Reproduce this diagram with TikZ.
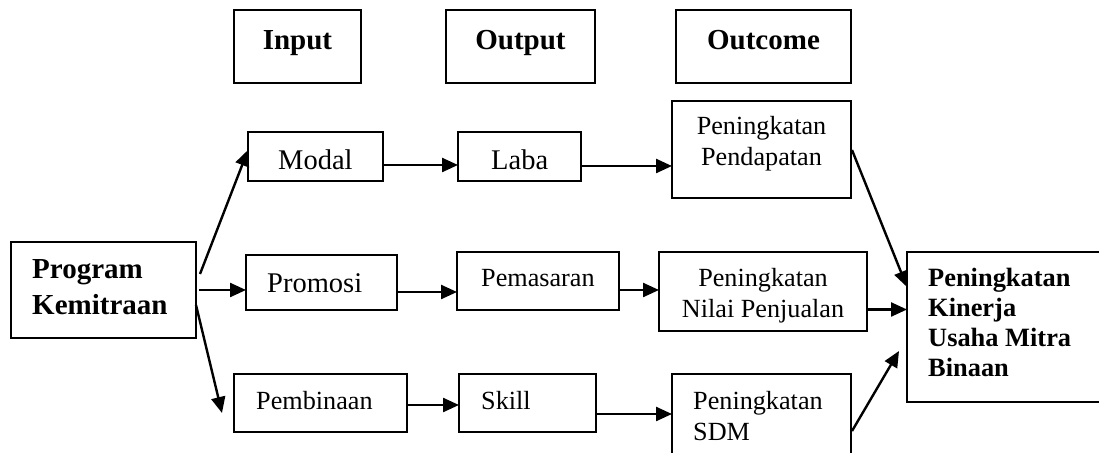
\documentclass[tikz,border=0pt]{standalone}
\usepackage{fontspec}
\setmainfont{Liberation Serif}
\usetikzlibrary{arrows.meta,calc}
\begin{document}
\begin{tikzpicture}[x=1pt,y=1pt,
  box/.style={draw=black,line width=1.8pt,inner sep=0pt,outer sep=0pt,anchor=north west},
  arr/.style={line width=2.4pt,-{Triangle[length=16pt,width=14pt]}},
  hdr/.style={font=\fontsize{29}{34}\selectfont\bfseries,inner sep=0pt,anchor=base},
  bigb/.style={font=\fontsize{29}{36}\selectfont\bfseries,inner sep=0pt,anchor=base west,align=left},
  finb/.style={font=\fontsize{26.4}{30}\selectfont\bfseries,inner sep=0pt,anchor=base west,align=left},
  big/.style={font=\fontsize{28.5}{32}\selectfont,inner sep=0pt,anchor=base west},
  sml/.style={font=\fontsize{26.2}{31}\selectfont,inner sep=0pt,anchor=base west,align=left},
  smlc/.style={font=\fontsize{26.2}{31}\selectfont,inner sep=0pt,anchor=base,align=center}]
\useasboundingbox (0,0) rectangle (1099,452);
\clip (0,0) rectangle (1099,452);
% header boxes
\node[box,minimum width=127pt,minimum height=73pt] (inp) at (234,442) {};
\node[box,minimum width=149pt,minimum height=73pt] (outp) at (446,442) {};
\node[box,minimum width=175pt,minimum height=73pt] (outc) at (676,442) {};
\node[hdr] (tinp) at (297.5,402) {Input};
\node[hdr] (toutp) at (520.5,402) {Output};
\node[hdr] (toutc) at (763.5,402) {Outcome};
% row 1
\node[box,minimum width=135pt,minimum height=49pt] (modal) at (248,320) {};
\node[box,minimum width=123pt,minimum height=49pt] (laba) at (458,320) {};
\node[box,minimum width=179pt,minimum height=97pt] (pp) at (672,351) {};
\node[big] (tmodal) at (278,282) {Modal};
\node[big] (tlaba) at (491,282) {Laba};
\node[smlc] (tpp) at (761.5,286) {Peningkatan\\Pendapatan};
% row 2
\node[box,minimum width=185pt,minimum height=96pt] (prog) at (11,210) {};
\node[box,minimum width=151pt,minimum height=55pt] (promosi) at (246,197) {};
\node[box,minimum width=162pt,minimum height=58pt] (pemasaran) at (457,200) {};
\node[box,minimum width=208pt,minimum height=79pt] (pnp) at (659,200) {};
\node[box,minimum width=220pt,minimum height=150pt] (final) at (907,200) {};
\node[bigb] (tprog) at (32,137) {Program\\Kemitraan};
\node[big] (tpromosi) at (267,159) {Promosi};
\node[sml] (tpemasaran) at (481,165) {Pemasaran};
\node[smlc] (tpnp) at (763,134) {Peningkatan\\Nilai Penjualan};
\node[finb] (tfinal) at (928,75) {Peningkatan\\Kinerja\\Usaha Mitra\\Binaan};
% row 3
\node[box,minimum width=173pt,minimum height=58pt] (pembinaan) at (234,78) {};
\node[box,minimum width=137pt,minimum height=58pt] (skill) at (459,78) {};
\node[box,minimum width=179pt,minimum height=100pt] (sdm) at (672,78) {};
\node[sml] (tpembinaan) at (256,42) {Pembinaan};
\node[sml] (tskill) at (481,42) {Skill};
\node[sml] (tsdm) at (693,12) {Peningkatan\\SDM};
% connectors
\draw[arr] ($(prog.north east)+(4,-32)$) -- ($(modal.north west)+(0,-18)$);
\draw[arr] ($(prog.north east)+(3,-48)$) -- ($(promosi.north west)+(0,-35)$);
\draw[arr] ($(prog.north east)+(0,-63)$) -- ($(pembinaan.north west)+(-12,-39)$);
\draw[arr] ($(modal.north east)+(0,-33)$) -- ($(laba.north west)+(0,-33)$);
\draw[arr] ($(laba.north east)+(0,-34)$) -- ($(pp.north west)+(0,-65)$);
\draw[arr] ($(promosi.north east)+(0,-37)$) -- ($(pemasaran.north west)+(0,-40)$);
\draw[arr] ($(pemasaran.north east)+(0,-38)$) -- ($(pnp.north west)+(0,-38)$);
\draw[arr] ($(pnp.north east)+(0,-57.5)$) -- ($(final.north west)+(0,-57.5)$);
\draw[arr] ($(pembinaan.north east)+(0,-31)$) -- ($(skill.north west)+(0,-31)$);
\draw[arr] ($(skill.north east)+(0,-40)$) -- ($(sdm.north west)+(0,-40)$);
\draw[arr] ($(pp.north east)+(1,-49)$) -- ($(final.north west)+(0,-35)$);
\draw[arr] ($(sdm.north east)+(1,-57)$) -- ($(final.north west)+(-8,-99)$);
\end{tikzpicture}
\end{document}
